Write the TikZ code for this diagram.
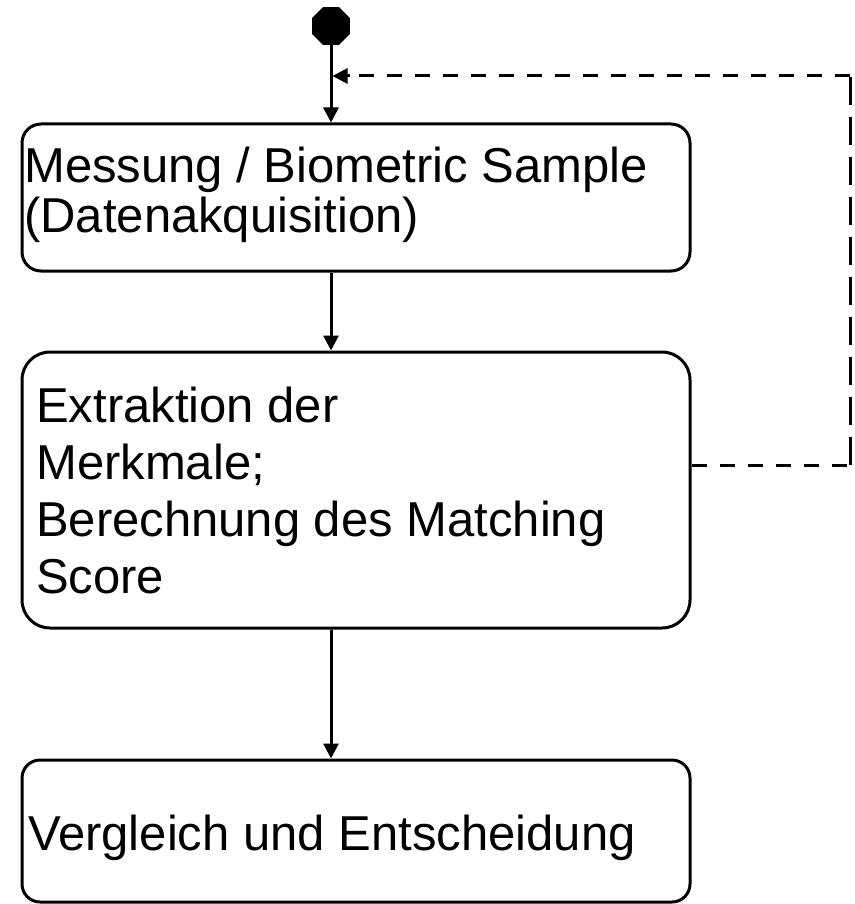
\documentclass[tikz,border=0pt]{standalone}
\usepackage{fontspec}
\setmainfont{Liberation Sans}
\usetikzlibrary{shapes.geometric,arrows.meta}
\tikzset{
  boxstyle/.style={draw, line width=3pt, rectangle, minimum width=668pt, inner sep=0pt},
  txt/.style={anchor=base west, inner sep=0pt, align=left, text=black},
  tip/.style={-{Triangle[length=15pt,width=15pt]}},
  conn/.style={line width=3pt, tip},
  dconn/.style={line width=3pt, dash pattern=on 15pt off 13pt},
  startnode/.style={regular polygon, regular polygon sides=8, fill=black, draw=none, inner sep=0pt, minimum size=41pt}
}
\begin{document}
\begin{tikzpicture}[x=1pt,y=-1pt]
\useasboundingbox (0,0) rectangle (854,904);
\fill[white] (0,0) rectangle (854,904);
\node[startnode] (start) at (331,26) {};
\node[boxstyle, minimum height=147pt, rounded corners=19pt] (box1) at (356,197.5) {};
\node[boxstyle, minimum height=276pt, rounded corners=28pt] (box2) at (356,490) {};
\node[boxstyle, minimum height=142pt, rounded corners=18pt] (box3) at (356,831) {};
\node[txt, font={\fontsize{49}{50}\selectfont}] (t1) at (24,232) {Messung / Biometric Sample\\(Datenakquisition)};
\node[txt, font={\fontsize{49}{57}\selectfont}] (t2) at (36,593) {Extraktion der\\Merkmale;\\Berechnung des Matching\\Score};
\node[txt, font={\fontsize{49}{57}\selectfont}] (t3) at (28,850) {Vergleich und Entscheidung};
\coordinate (j) at (332.5,76);
\coordinate (jt) at (350,76);
\coordinate (d0) at (box2.east |- 0,465);
\coordinate (d1) at (850,465);
\coordinate (d2) at (850,76);
\draw[conn] (start.center) -- (start.center |- box1.north);
\draw[conn] (start.center |- box1.south) -- (start.center |- box2.north);
\draw[conn] (start.center |- box2.south) -- (start.center |- box3.north);
\draw[dconn] (d0) -- (d1);
\draw[line width=3pt, dash pattern=on 28pt off 12pt] (d1) -- (d2);
\draw[dconn] (d2) -- (jt);
\draw[conn] (jt) -- (j);
\end{tikzpicture}
\end{document}
